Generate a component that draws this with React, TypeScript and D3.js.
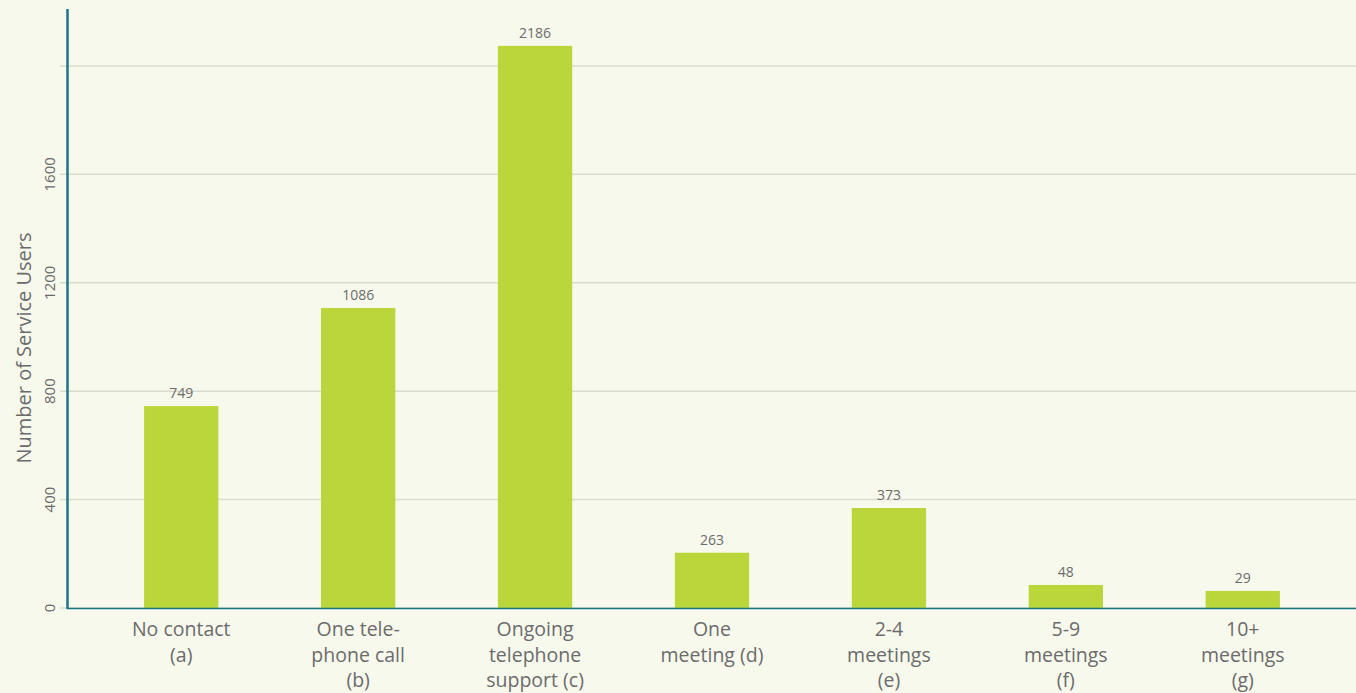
import React from "react";
import * as d3 from "d3";

const categories: string[][] = [
  ["No contact", "(a)"],
  ["One tele-", "phone call", "(b)"],
  ["Ongoing", "telephone", "support (c)"],
  ["One", "meeting (d)"],
  ["2-4", "meetings", "(e)"],
  ["5-9", "meetings", "(f)"],
  ["10+", "meetings", "(g)"],
];
// bar heights as drawn in the picture
const barValues: number[] = [745, 1107, 2074, 204, 369, 85, 63];
// value labels as printed above the bars
const valueLabels: string[] = ["749", "1086", "2186", "263", "373", "48", "29"];
const gridValues: number[] = [0, 400, 800, 1200, 1600, 2000];
const tickLabels: number[] = [0, 400, 800, 1200, 1600];

const W = 1356;
const H = 693;
const FONT = "'Open Sans', 'Noto Sans', sans-serif";

export default function App() {
  const x = d3
    .scaleBand<number>()
    .domain(d3.range(categories.length))
    .range([68, 1356])
    .paddingInner(0.58)
    .paddingOuter(0.43);
  const y = d3.scaleLinear().domain([0, 2210]).range([608, 9]);

  return (
    <svg
      width={W}
      height={H}
      style={{ position: "fixed", left: 0, top: 0, display: "block" }}
    >
      <rect x={0} y={0} width={W} height={H} fill="#f8f9ed" />
      {gridValues.map((v) => (
        <line
          key={"g" + v}
          x1={60}
          x2={W}
          y1={y(v)}
          y2={y(v)}
          stroke="#dadbd0"
          strokeWidth={1.5}
        />
      ))}
      {tickLabels.map((v) => (
        <text
          key={"t" + v}
          transform={`translate(55,${y(v)}) rotate(-90)`}
          textAnchor="middle"
          fontFamily={FONT}
          fontSize={15}
          fill="#6b6b6b"
        >
          {v}
        </text>
      ))}
      <text
        transform={`translate(31,348) rotate(-90)`}
        textAnchor="middle"
        fontFamily={FONT}
        fontSize={20}
        fill="#6b6b6b"
      >
        Number of Service Users
      </text>
      {barValues.map((v, i) => (
        <rect
          key={"b" + i}
          x={x(i)}
          y={y(v)}
          width={x.bandwidth()}
          height={y(0) - y(v)}
          fill="#bbd63a"
        />
      ))}
      {barValues.map((v, i) => (
        <text
          key={"l" + i}
          x={(x(i) as number) + x.bandwidth() / 2}
          y={y(v) - 8}
          textAnchor="middle"
          fontFamily={FONT}
          fontSize={14}
          fill="#6b6b6b"
        >
          {valueLabels[i]}
        </text>
      ))}
      <line x1={67} x2={W} y1={608.5} y2={608.5} stroke="#1b7585" strokeWidth={1.5} />
      <line x1={67.5} x2={67.5} y1={9} y2={609} stroke="#1b7585" strokeWidth={2.5} />
      {categories.map((lines, i) => (
        <text
          key={"c" + i}
          textAnchor="middle"
          fontFamily={FONT}
          fontSize={19.5}
          fill="#6b6b6b"
        >
          {lines.map((ln, j) => (
            <tspan
              key={j}
              x={(x(i) as number) + x.bandwidth() / 2}
              y={636 + j * 25.5}
            >
              {ln}
            </tspan>
          ))}
        </text>
      ))}
    </svg>
  );
}
